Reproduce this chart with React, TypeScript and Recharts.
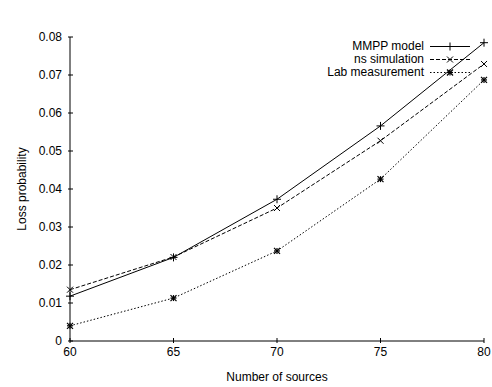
import { LineChart, Line, XAxis, YAxis } from "recharts";

// Loss probability vs number of sources, 5 buffers (gnuplot-style frame, inward ticks)

const SOURCES = [60, 65, 70, 75, 80];
const MMPP_MODEL = [0.0118, 0.022, 0.0373, 0.0566, 0.0785];
const NS_SIMULATION = [0.0135, 0.0221, 0.035, 0.0527, 0.0729];
const LAB_MEASUREMENT = [0.004, 0.0113, 0.0237, 0.0426, 0.0687];

const X_TICKS = [60, 65, 70, 75, 80];
const Y_TICKS = [0, 0.01, 0.02, 0.03, 0.04, 0.05, 0.06, 0.07, 0.08];

const FONT = "'Liberation Sans', Arial, Helvetica, sans-serif";
const INK = "#000";
const TICK = 5;

const data = SOURCES.map((n, i) => ({
  n,
  mmpp: MMPP_MODEL[i],
  ns: NS_SIMULATION[i],
  lab: LAB_MEASUREMENT[i],
}));

const fmtY = (v: number) => (v === 0 ? "0" : v.toFixed(2));

// tick renderers: labels outside, short marks pointing into the plot
function LeftTick({ x, y, payload }: any) {
  return (
    <g>
      <line x1={x} y1={y} x2={x + TICK} y2={y} stroke={INK} />
      <text x={x - 6} y={y} dy={4} textAnchor="end" fontSize={12} fontFamily={FONT} fill={INK}>
        {fmtY(payload.value)}
      </text>
    </g>
  );
}

function RightTick({ x, y }: any) {
  return <line x1={x - TICK} y1={y} x2={x} y2={y} stroke={INK} />;
}

function BottomTick({ x, y, payload }: any) {
  return (
    <g>
      <line x1={x} y1={y} x2={x} y2={y - TICK} stroke={INK} />
      <text x={x} y={y + 13} textAnchor="middle" fontSize={12} fontFamily={FONT} fill={INK}>
        {payload.value}
      </text>
    </g>
  );
}

function TopTick({ x, y }: any) {
  return <line x1={x} y1={y} x2={x} y2={y + TICK} stroke={INK} />;
}

// point markers
function Plus({ cx, cy }: any) {
  if (cx == null || cy == null) return null;
  const s = 4;
  return (
    <g stroke={INK} strokeWidth={1}>
      <line x1={cx - s} y1={cy} x2={cx + s} y2={cy} />
      <line x1={cx} y1={cy - s} x2={cx} y2={cy + s} />
    </g>
  );
}

function Cross({ cx, cy }: any) {
  if (cx == null || cy == null) return null;
  const s = 3;
  return (
    <g stroke={INK} strokeWidth={1}>
      <line x1={cx - s} y1={cy - s} x2={cx + s} y2={cy + s} />
      <line x1={cx - s} y1={cy + s} x2={cx + s} y2={cy - s} />
    </g>
  );
}

function Star({ cx, cy }: any) {
  if (cx == null || cy == null) return null;
  const s = 3;
  return (
    <g stroke={INK} strokeWidth={1.2}>
      <line x1={cx - s} y1={cy} x2={cx + s} y2={cy} />
      <line x1={cx} y1={cy - s} x2={cx} y2={cy + s} />
      <line x1={cx - s} y1={cy - s} x2={cx + s} y2={cy + s} />
      <line x1={cx - s} y1={cy + s} x2={cx + s} y2={cy - s} />
    </g>
  );
}

const SERIES = [
  { key: "mmpp", name: "MMPP model", dash: undefined, Marker: Plus },
  { key: "ns", name: "ns simulation", dash: "4 2", Marker: Cross },
  { key: "lab", name: "Lab measurement", dash: "1.5 2", Marker: Star },
];

function KeyBox() {
  return (
    <div
      style={{
        position: "absolute",
        top: 40,
        right: 20,
        fontFamily: FONT,
        fontSize: 12,
        lineHeight: "13px",
        color: INK,
      }}
    >
      {SERIES.map((s) => (
        <div key={s.key} style={{ display: "flex", alignItems: "center", justifyContent: "flex-end" }}>
          <span>{s.name}</span>
          <svg width={44} height={13} style={{ marginLeft: 4 }}>
            <line x1={2} y1={6.5} x2={42} y2={6.5} stroke={INK} strokeDasharray={s.dash} />
            <s.Marker cx={22} cy={6.5} />
          </svg>
        </div>
      ))}
    </div>
  );
}

export default function App() {
  return (
    <div style={{ position: "absolute", left: 0, top: 0, width: 492, height: 387, background: "#fff" }}>
      <LineChart width={492} height={387} data={data} margin={{ top: 37, right: 8, bottom: 0, left: 10 }}>
        <XAxis
          dataKey="n"
          type="number"
          domain={[60, 80]}
          ticks={X_TICKS}
          height={46}
          tickSize={0}
          tickLine={false}
          axisLine={{ stroke: INK }}
          tick={<BottomTick />}
          label={{
            content: ({ viewBox }: any) => (
              <text
                x={viewBox.x + viewBox.width / 2}
                y={viewBox.y + viewBox.height - 6}
                textAnchor="middle"
                fontSize={12}
                fontFamily={FONT}
                fill={INK}
              >
                Number of sources
              </text>
            ),
          }}
        />
        <XAxis
          xAxisId="top"
          orientation="top"
          dataKey="n"
          type="number"
          domain={[60, 80]}
          ticks={X_TICKS}
          height={0}
          tickSize={0}
          tickLine={false}
          axisLine={{ stroke: INK }}
          tick={<TopTick />}
          label={{
            content: ({ viewBox }: any) => (
              <text
                x={viewBox.x + viewBox.width / 2 - 5}
                y={viewBox.y - 19}
                textAnchor="middle"
                fontSize={12}
                fontFamily={FONT}
                fill={INK}
              >
                5 buffers
              </text>
            ),
          }}
        />
        <YAxis
          type="number"
          domain={[0, 0.08]}
          ticks={Y_TICKS}
          width={60}
          tickSize={0}
          tickLine={false}
          axisLine={{ stroke: INK }}
          tick={<LeftTick />}
          label={{
            content: ({ viewBox }: any) => {
              const cx = viewBox.x + 12;
              const cy = viewBox.y + viewBox.height / 2;
              return (
                <text
                  x={cx}
                  y={cy}
                  transform={`rotate(-90 ${cx} ${cy})`}
                  textAnchor="middle"
                  dominantBaseline="central"
                  fontSize={12}
                  fontFamily={FONT}
                  fill={INK}
                >
                  Loss probability
                </text>
              );
            },
          }}
        />
        <YAxis
          yAxisId="right"
          orientation="right"
          type="number"
          domain={[0, 0.08]}
          ticks={Y_TICKS}
          width={0}
          tickSize={0}
          tickLine={false}
          axisLine={{ stroke: INK }}
          tick={<RightTick />}
        />
        {SERIES.map((s) => (
          <Line
            key={s.key}
            dataKey={s.key}
            name={s.name}
            type="linear"
            stroke={INK}
            strokeWidth={1}
            strokeDasharray={s.dash}
            dot={<s.Marker />}
            activeDot={false}
            isAnimationActive={false}
          />
        ))}
      </LineChart>
      <KeyBox />
    </div>
  );
}
